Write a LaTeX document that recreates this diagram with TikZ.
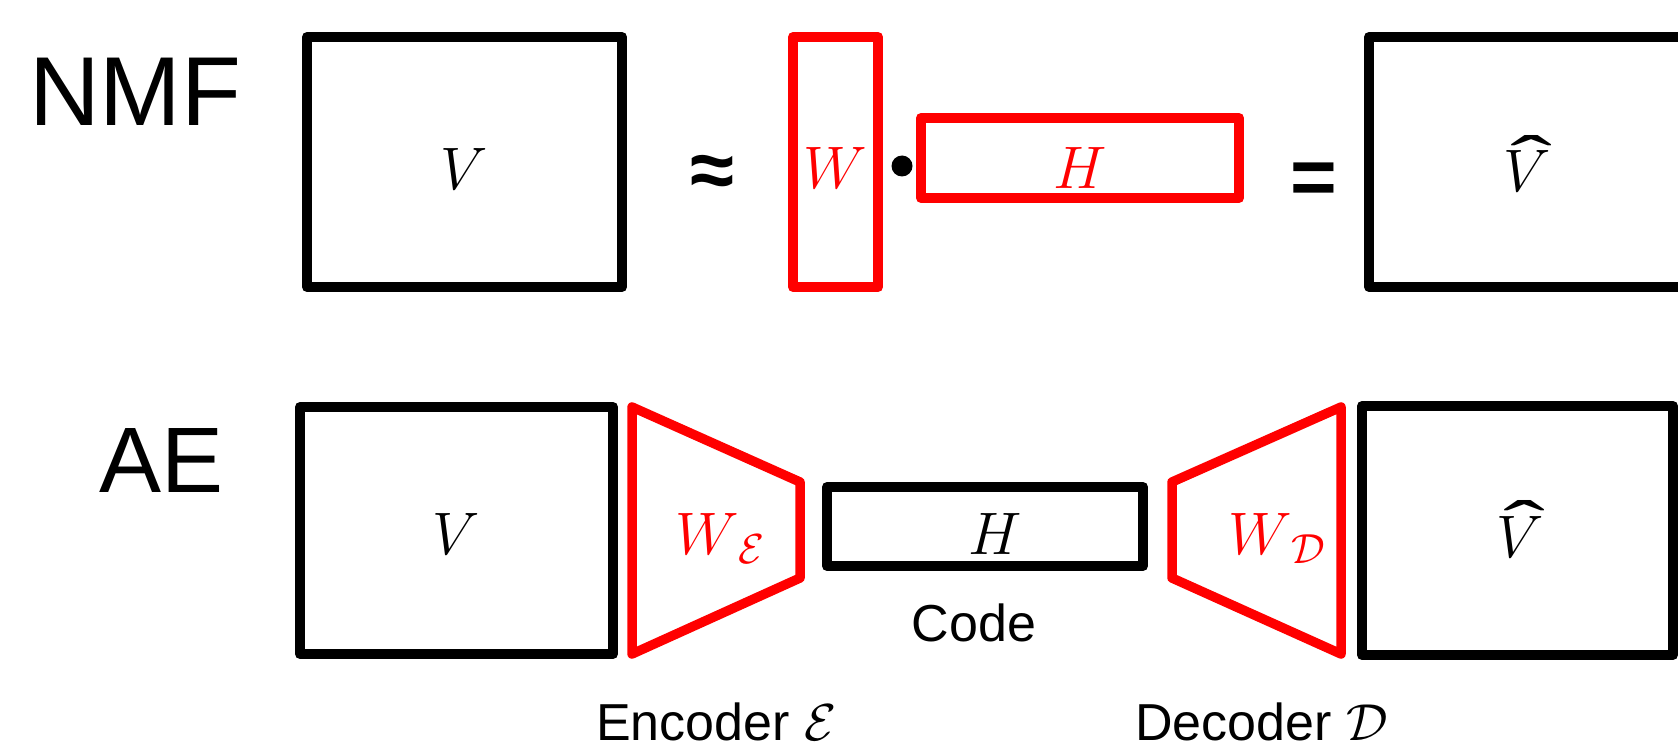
\RequirePackage{fix-cm}
\documentclass[tikz,border=0pt]{standalone}
\usepackage{fontspec}
\setmainfont{Liberation Sans}
\newfontfamily\hatfont{Liberation Serif}
\newcommand{\vhatsym}{\ooalign{$V$\cr\hidewidth\kern0.14em\raisebox{0.14em}{\hatfont\scalebox{2.1}[1.15]{ˆ}}\hidewidth\cr}}
\definecolor{nred}{RGB}{255,0,0}
\tikzset{
  mat/.style={draw=black, line width=10pt, line join=round, inner sep=0pt, outer sep=0pt},
  redmat/.style={mat, draw=nred},
  redtrap/.style={draw=nred, line width=9.5pt, line join=round},
  sym/.style={font=\fontsize{60}{72}\selectfont, inner sep=0pt, anchor=base},
  bigtitle/.style={font=\fontsize{98}{118}\selectfont, inner sep=0pt, anchor=base west},
  captxt/.style={font=\fontsize{52}{62}\selectfont, inner sep=0pt, anchor=base west},
  opsym/.style={font=\bfseries\fontsize{80}{88}\selectfont, inner sep=0pt}
}
\begin{document}
\begin{tikzpicture}[x=1pt,y=-1pt]
\useasboundingbox (0,0) rectangle (1678,746);
\clip (0,0) rectangle (1678,746);
% ---- NMF row ----
\node[bigtitle] (nmf) at (29,126) {NMF};
\node[mat, minimum width=315pt, minimum height=250pt] (V) at (464.5,162) {};
\node[sym] (Vl) at (464.5,190) {$V$};
\node[opsym] (approx) at (712,176) {≈};
\node[redmat, minimum width=85pt, minimum height=250pt] (W) at (835.5,162) {};
\node[sym, text=nred] (Wl) at (835.5,189) {$W$};
\node[circle, fill=black, inner sep=0pt, minimum size=21pt] (dot) at (902,166) {};
\node[redmat, minimum width=318pt, minimum height=80pt] (H) at (1080,158) {};
\node[sym, text=nred] (Hl) at (1080,189) {$H$};
\node[opsym] (eq) at (1314,184) {=};
\node[mat, minimum width=321pt, minimum height=250pt] (Vh) at (1529.5,162) {};
\node[sym] (Vhl) at (1527,192) {\vhatsym};
% ---- AE row ----
\node[font=\fontsize{93}{112}\selectfont, inner sep=0pt, anchor=base west] (ae) at (99,492) {AE};
\node[mat, minimum width=313pt, minimum height=247pt] (V2) at (456.5,530.5) {};
\node[sym] (V2l) at (456.5,554) {$V$};
\coordinate (e1) at (632,407);
\coordinate (e2) at (800,482);
\coordinate (e3) at (800,578);
\coordinate (e4) at (632,654);
\draw[redtrap] (e1) -- (e2) -- (e3) -- (e4) -- cycle;
\node[sym, text=nred] (WE) at (720,554) {$W_{\,\mathcal{E}}$};
\node[mat, minimum width=316pt, minimum height=79pt] (H2) at (985,526.5) {};
\node[sym] (H2l) at (995,554) {$H$};
\node[captxt, anchor=base] (code) at (974,641) {Code};
\coordinate (d1) at (1172,482);
\coordinate (d2) at (1341,407);
\coordinate (d3) at (1341,654);
\coordinate (d4) at (1172,578);
\draw[redtrap] (d1) -- (d2) -- (d3) -- (d4) -- cycle;
\node[sym, text=nred] (WD) at (1277,554) {$W_{\,\mathcal{D}}$};
\node[mat, minimum width=311pt, minimum height=249pt] (V2h) at (1517.5,530.5) {};
\node[sym] (V2hl) at (1520,557) {\vhatsym};
\node[captxt] (enc) at (596,740) {Encoder $\mathcal{E}$};
\node[captxt] (dec) at (1135,740) {Decoder $\mathcal{D}$};
\end{tikzpicture}
\end{document}
